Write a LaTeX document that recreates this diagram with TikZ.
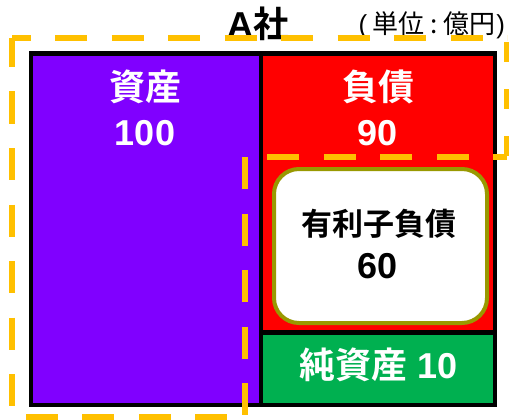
\documentclass[tikz,border=0pt]{standalone}
\usepackage{fontspec}
\setmainfont{Liberation Sans}
\newfontfamily\cjk{Noto Sans CJK JP}[BoldFont={Noto Sans CJK JP Bold}]
\definecolor{assetpurple}{HTML}{8000FF}
\definecolor{liabred}{HTML}{FF0000}
\definecolor{equitygreen}{HTML}{00B050}
\definecolor{dashorange}{HTML}{FFC000}
\definecolor{olive}{HTML}{999900}
\tikzset{
  block/.style={draw=black, line width=4.5pt, inner sep=0pt, outer sep=0pt, anchor=north west},
  bigtxt/.style={font=\bfseries\fontsize{36}{40}\selectfont, text=white, inner sep=0pt},
  debtbox/.style={draw=olive, fill=white, line width=4pt, rounded corners=25pt, inner sep=0pt, anchor=north west},
  dashline/.style={draw=dashorange, line width=6pt}
}
\begin{document}
\begin{tikzpicture}[x=1pt,y=-1pt]
\useasboundingbox (0,0) rectangle (509,420);
% boxes
\node[block, fill=assetpurple, minimum width=230pt, minimum height=351.5pt] (assets) at (31,53.5) {};
\node[block, fill=liabred, minimum width=234pt, minimum height=279pt] (liab) at (261,53.5) {};
\node[block, fill=equitygreen, minimum width=234pt, minimum height=72.5pt] (equity) at (261,332.5) {};
\node[debtbox, minimum width=213pt, minimum height=154pt] (debt) at (272,167) {};
% texts
\node[bigtxt] (assetlbl) at (145,87) {\cjk\bfseries 資産};
\node[bigtxt] (assetnum) at (145,133) {100};
\node[bigtxt] (liablbl) at (378,87) {\cjk\bfseries 負債};
\node[bigtxt] (liabnum) at (378,133) {90};
\node[bigtxt, text=black, font=\bfseries\fontsize{31}{36}\selectfont] (debtlbl) at (378.5,224) {\cjk\bfseries 有利子負債};
\node[bigtxt, text=black] (debtnum) at (378,266) {60};
\node[bigtxt] (equitylbl) at (378.5,365) {{\cjk\bfseries 純資産} 10};
\node[bigtxt, text=black] (title) at (258,24) {A{\cjk\bfseries 社}};
\node[inner sep=0pt, font=\fontsize{26}{30}\selectfont] (unit) at (429,25) {\makebox[0.75em][r]{(\hspace{0.2em}}{\cjk 単位\makebox[0.75em]{:}億円}\hspace{0.02em})};
% dashed outline
\coordinate (tl) at (12,38);
\coordinate (tr) at (507,38);
\coordinate (mr) at (507,157);
\coordinate (mm) at (245,157);
\coordinate (bm) at (245,417);
\coordinate (bl) at (12,417);
\draw[dashline, dash pattern=on 32pt off 24.5pt, dash phase=13.5pt] (tl) -- (tr);
\draw[dashline, dash pattern=on 32pt off 24.5pt, dash phase=3pt] (tl) -- (bl);
\draw[dashline, dash pattern=on 20pt off 27pt, dash phase=43pt] (tr) -- (mr);
\draw[dashline, dash pattern=on 32pt off 24.5pt, dash phase=18pt] (mr) -- (mm);
\draw[dashline, dash pattern=on 32pt off 24.5pt, dash phase=0pt] (mm) -- (bm);
\draw[dashline, dash pattern=on 32pt off 24.5pt, dash phase=38.5pt] (bm) -- (bl);
\end{tikzpicture}
\end{document}
